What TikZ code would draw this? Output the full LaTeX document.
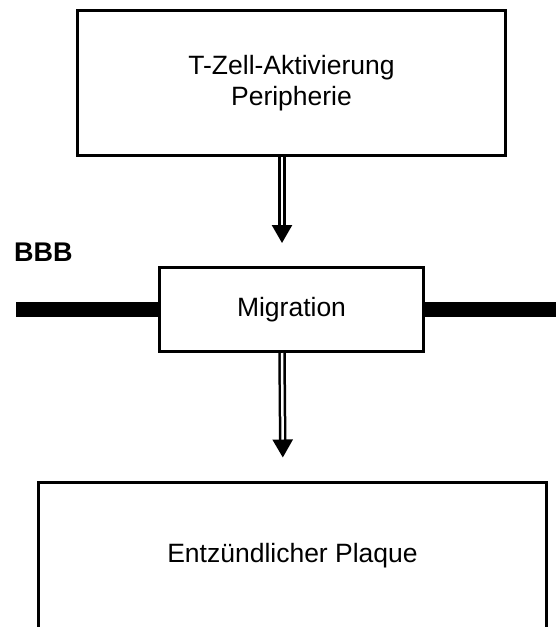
\documentclass[tikz,border=0pt]{standalone}
\usepackage{fontspec}
\setmainfont{Liberation Sans}
\usetikzlibrary{arrows.meta}
\tikzset{
    box/.style={draw, line width=3pt, align=center, inner sep=0pt,
        font=\fontsize{26.5}{31}\selectfont},
    flow/.style={double, line width=2.5pt, double distance=2.5pt,
        -{Triangle[width=20pt,length=18pt]}, shorten >=23pt},
    barrier/.style={line width=15pt}
}
\begin{document}
\begin{tikzpicture}[x=1pt,y=-1pt]
        \useasboundingbox (0,0) rectangle (556,627);
        \clip (0,0) rectangle (556,627);
        % Boxes
        \node[box, minimum width=428pt, minimum height=145pt] (activation) at (291.5,83) {T-Zell-Aktivierung\\Peripherie};
        \node[box, minimum width=264pt, minimum height=84pt] (migration) at (291.5,309.5) {Migration};
        \node[box, minimum width=508pt, minimum height=148pt] (plaque) at (292.5,556) {Entzündlicher Plaque};
        % Barrier
        \node[anchor=west, inner sep=0pt, font=\fontsize{27}{30}\selectfont\bfseries] (bbb) at (14,252) {BBB};
        \coordinate (bbbleft) at (16,309.5);
        \coordinate (bbbright) at (556,309.5);
        \draw[barrier] (bbbleft) -- (migration.west);
        \draw[barrier] (migration.east) -- (bbbright);
        % Arrows
        \draw[flow] ([xshift=-9.5pt]activation.south) -- ([xshift=-9.5pt]migration.north);
        \draw[flow] ([xshift=-9.5pt]migration.south) -- ([xshift=-9.5pt]plaque.north);
    \end{tikzpicture}
\end{document}
